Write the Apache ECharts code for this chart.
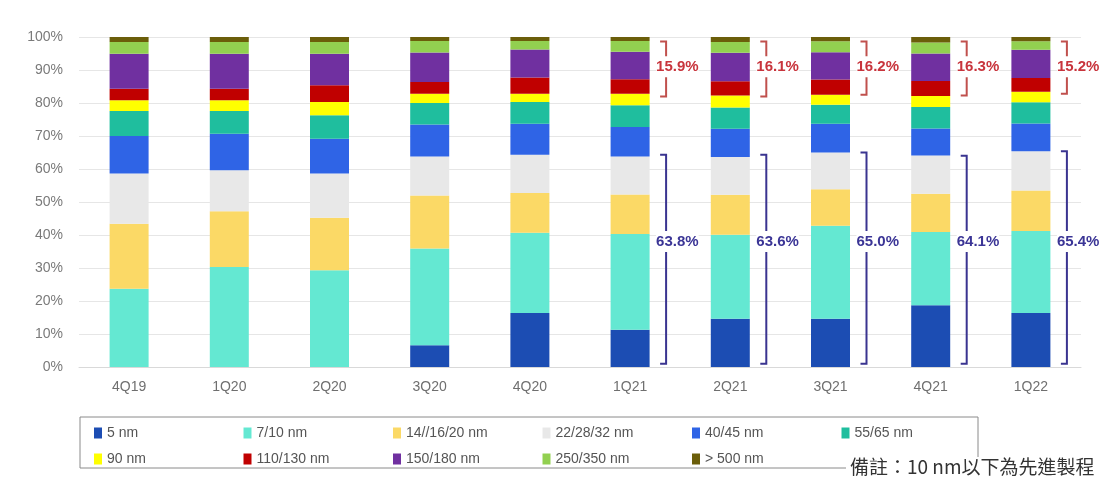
<!DOCTYPE html>
<html><head><meta charset="utf-8">
<script src="https://cdn.jsdelivr.net/npm/echarts@6/dist/echarts.min.js"></script>
<style>html,body{margin:0;padding:0;background:#fff}#c{width:1109px;height:486px}</style>
</head><body><div id="c"></div>
<script>
const categories = ['4Q19','1Q20','2Q20','3Q20','4Q20','1Q21','2Q21','3Q21','4Q21','1Q22'];
const seriesNames = ['5 nm','7/10 nm','14//16/20 nm','22/28/32 nm','40/45 nm','55/65 nm','90 nm','110/130 nm','150/180 nm','250/350 nm','> 500 nm'];
const colors = ['#1c4db3','#64e8d2','#fbd966','#e8e8e8','#2f64e6','#1fbe9e','#ffff00','#c00000','#7030a0','#92d050','#6b5e0a'];
const v5nm     = [0, 0, 0, 6.6, 16.4, 11.3, 14.6, 14.6, 18.7, 16.4];
const v7_10    = [23.7, 30.3, 29.3, 29.3, 24.3, 29.0, 25.5, 28.2, 22.2, 24.8];
const v14_20   = [19.7, 16.9, 15.9, 16.1, 12.0, 12.0, 12.1, 11.1, 11.6, 12.3];
const v22_32   = [15.2, 12.4, 13.4, 11.8, 11.6, 11.5, 11.4, 11.1, 11.6, 11.9];
const v40_45   = [11.4, 11.1, 10.6, 9.7, 9.4, 8.9, 8.6, 8.7, 8.2, 8.4];
const v55_65   = [7.6, 6.9, 7.1, 6.5, 6.6, 6.6, 6.4, 5.8, 6.5, 6.4];
const v90      = [3.2, 3.2, 4.0, 2.8, 2.5, 3.5, 3.7, 3.0, 3.3, 3.2];
const v110_130 = [3.5, 3.5, 5.1, 3.6, 4.9, 4.4, 4.3, 4.6, 4.6, 4.2];
const v150_180 = [10.6, 10.6, 9.5, 8.9, 8.5, 8.3, 8.6, 8.3, 8.3, 8.5];
const v250_350 = [3.6, 3.6, 3.6, 3.5, 2.6, 3.3, 3.3, 3.3, 3.3, 2.6];
const v500     = [1.5, 1.5, 1.5, 1.2, 1.2, 1.2, 1.5, 1.3, 1.7, 1.3];
const seriesValues = [v5nm, v7_10, v14_20, v22_32, v40_45, v55_65, v90, v110_130, v150_180, v250_350, v500];
const yTicks = [0,10,20,30,40,50,60,70,80,90,100];

// bracket annotations: [category index, low %, high %, label]
const redBrackets  = [[5, 82.0, 98.6, '15.9%'], [6, 82.0, 98.6, '16.1%'], [7, 82.5, 98.6, '16.2%'], [8, 82.3, 98.6, '16.3%'], [9, 82.8, 98.6, '15.2%']];
const blueBrackets = [[5, 1.0, 64.3, '63.8%'], [6, 1.0, 64.3, '63.6%'], [7, 1.0, 65.0, '65.0%'], [8, 1.0, 64.0, '64.1%'], [9, 1.0, 65.4, '65.4%']];
const redLabelPos = 91, blueLabelPos = 38;

const chart = echarts.init(document.getElementById('c'));
const FONT = 'Liberation Sans';

function bracketSeries(data, color, textColor, labelPos) {
  return {
    type: 'custom', name: '_br', silent: true, z: 5,
    data: data.map(d => [d[0], d[1], d[2], labelPos, d[3]]),
    encode: { x: 0, y: [1, 2] },
    renderItem: function (params, api) {
      const c = api.value(0);
      const lo = api.coord([c, api.value(1)]);
      const hi = api.coord([c, api.value(2)]);
      const lp = api.coord([c, api.value(3)]);
      const x = lo[0] + 36, xs = lo[0] + 30;
      return {
        type: 'group',
        children: [
          { type: 'polyline', shape: { points: [[xs, hi[1]], [x, hi[1]], [x, lo[1]], [xs, lo[1]]] },
            style: { stroke: color, lineWidth: 2, fill: null } },
          { type: 'text', x: lo[0] + 26, y: lp[1],
            style: { text: api.value(4), fill: textColor, font: 'bold 15px ' + FONT,
                     verticalAlign: 'middle', align: 'left',
                     backgroundColor: '#fff', padding: [3, 0, 3, 0] } }
        ]
      };
    }
  };
}

const barSeries = seriesNames.map((n, i) => ({
  name: n, type: 'bar', stack: 'total', barWidth: 39,
  itemStyle: { color: colors[i] }, data: seriesValues[i]
}));

const legends = seriesNames.map((n, i) => ({
  left: 89 + 149.5 * (i % 6), top: i < 6 ? 421 : 447, data: [n],
  itemWidth: 8, itemHeight: 11, icon: 'rect', selectedMode: false,
  textStyle: { fontSize: 14, color: '#555', fontFamily: FONT }
}));

chart.setOption({
  animation: false,
  color: colors,
  grid: { left: 79, right: 28, top: 37, bottom: 119 },
  xAxis: {
    type: 'category', data: categories,
    axisLine: { lineStyle: { color: '#d9d9d9' } }, axisTick: { show: false },
    axisLabel: { color: '#6f6f6f', fontSize: 14, fontFamily: FONT, margin: 13 }
  },
  yAxis: {
    type: 'value', min: yTicks[0], max: yTicks[yTicks.length - 1], interval: 10,
    axisLabel: { formatter: '{value}%', color: '#7a7a7a', fontSize: 14, fontFamily: FONT, margin: 16 },
    splitLine: { lineStyle: { color: '#e6e6e6' } }
  },
  legend: legends,
  graphic: [
    { type: 'rect', shape: { x: 80, y: 417, width: 898, height: 51 }, style: { stroke: '#8a8a8a', fill: null, lineWidth: 1 }, z: 0 },
    { type: 'text', left: 846, top: 457,
      style: { text: '備註：10 nm以下為先進製程', font: '19px "Noto Sans CJK TC"', fill: '#333', backgroundColor: '#fff', padding: [0, 0, 0, 4] }, z: 10 }
  ],
  series: barSeries.concat([
    bracketSeries(redBrackets, '#c0504d', '#c8343c', redLabelPos),
    bracketSeries(blueBrackets, '#3a3490', '#3b3596', blueLabelPos)
  ])
});
</script></body></html>
